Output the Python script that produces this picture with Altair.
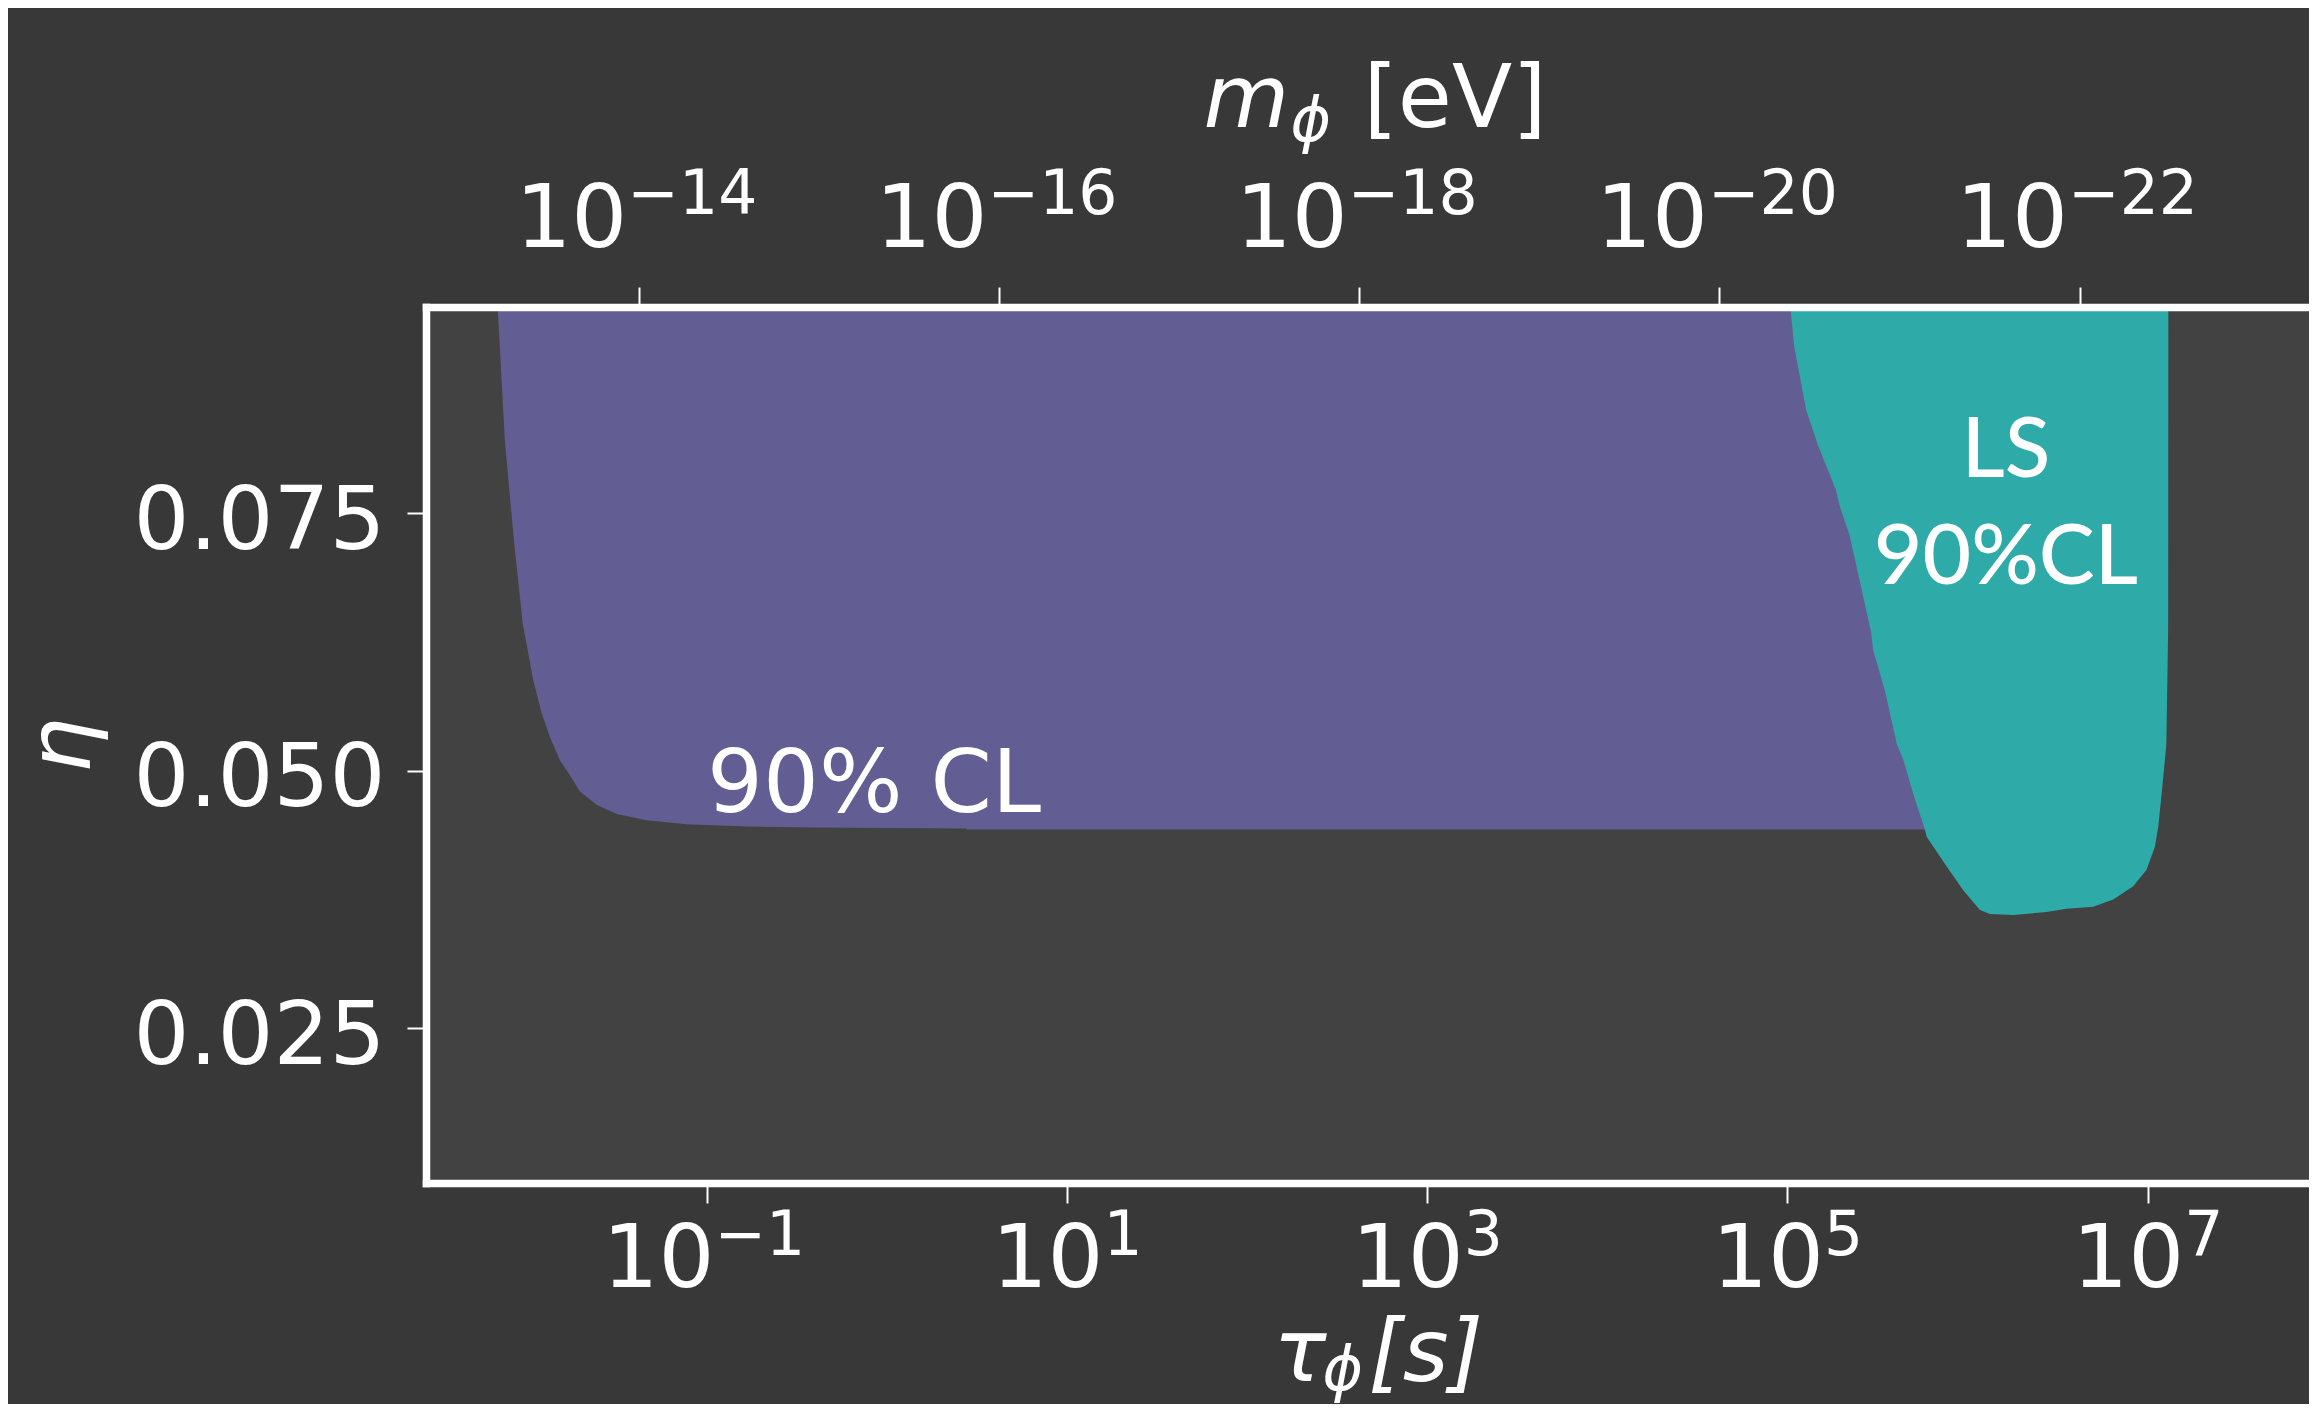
import altair as alt
import pandas as pd

# ---------------- data ----------------
# lower boundary of the purple "90% CL" excluded region: log10(tau/s), eta
purple_log_tau = [-2.162, -2.122, -2.072, -2.023, -1.992, -1.965, -1.918, -1.872,
                  -1.816, -1.770, -1.705, -1.613, -1.501, -1.335, -1.113, -0.780,
                  -0.411, 0.442, 0.443, 6.100]
purple_eta = [0.0950, 0.0820, 0.0724, 0.0643, 0.0614, 0.0588, 0.0556, 0.0533,
              0.0510, 0.0498, 0.0480, 0.0467, 0.0458, 0.0452, 0.0448, 0.0446,
              0.0445, 0.0444, 0.0443, 0.0443]

# lower boundary of the teal "LS 90%CL" region
teal_log_tau = [5.016, 5.038, 5.104, 5.169, 5.268, 5.290, 5.344, 5.399, 5.465,
                5.476, 5.541, 5.607, 5.643, 5.698, 5.763, 5.773, 5.884, 5.976,
                6.069, 6.124, 6.254, 6.439, 6.550, 6.698, 6.809, 6.920, 6.994,
                7.040, 7.059, 7.078, 7.096, 7.104, 7.114, 7.115]
teal_eta = [0.0950, 0.0911, 0.0850, 0.0816, 0.0773, 0.0757, 0.0729, 0.0686, 0.0634,
            0.0617, 0.0578, 0.0526, 0.0511, 0.0478, 0.0443, 0.0436, 0.0407, 0.0384,
            0.0365, 0.0361, 0.0360, 0.0363, 0.0366, 0.0368, 0.0375, 0.0388, 0.0404,
            0.0426, 0.0446, 0.0478, 0.0511, 0.0526, 0.0639, 0.0950]

# annotations (data coordinates)
cl_labels = ["90% CL"]
cl_log_tau = [-1.0]
cl_eta = [0.0460]
ls_labels = ["LS", "90%CL"]
ls_log_tau = [6.213, 6.213]
ls_eta = [0.07855, 0.06815]

# axes
tau_ticks = [1e-1, 1e1, 1e3, 1e5, 1e7]
m_ticks = [1e-14, 1e-16, 1e-18, 1e-20, 1e-22]
eta_ticks = [0.025, 0.050, 0.075]
tau_log_domain = [-2.560, 7.896]
eta_domain = [0.010, 0.095]
log_m_times_tau = -15.378   # log10(m_phi * tau_phi) in eV s

# ---------------- style ----------------
BG = "#383838"
PLOT_BG = "#424242"
PURPLE = "#625E94"
TEAL = "#2EAAA8"
FONT = "DejaVu Sans"
FS = 88
FS_SUP = 61.6
W, H = 1883, 876

tau_dom = [10 ** tau_log_domain[0], 10 ** tau_log_domain[1]]
m_dom = [10 ** (log_m_times_tau - tau_log_domain[1]), 10 ** (log_m_times_tau - tau_log_domain[0])]


def tau_scale():
    return alt.Scale(type="log", domain=tau_dom, nice=False)


def m_scale():
    return alt.Scale(type="log", domain=m_dom, nice=False, reverse=True)


def eta_scale():
    return alt.Scale(domain=eta_domain, nice=False, zero=False)


top_eta = eta_domain[1]
purple_df = pd.DataFrame({"tau": [10 ** v for v in purple_log_tau], "eta": purple_eta,
                          "top": [top_eta] * len(purple_eta)})
teal_df = pd.DataFrame({"tau": [10 ** v for v in teal_log_tau], "eta": teal_eta,
                        "top": [top_eta] * len(teal_eta)})
cl_df = pd.DataFrame({"tau": [10 ** v for v in cl_log_tau], "eta": cl_eta, "label": cl_labels})
ls_df = pd.DataFrame({"tau": [10 ** v for v in ls_log_tau], "eta": ls_eta, "label": ls_labels})

y_axis = alt.Axis(
    orient="left", values=eta_ticks, format=".3f", grid=False,
    labelFont=FONT, labelFontSize=FS, labelColor="white", labelPadding=22,
    labelBaseline="alphabetic", labelOffset=35, labelLimit=1000, labelOverlap=False,
    labelFlush=False, labelBound=False,
    tickSize=19, tickWidth=2, tickColor="white",
    domainColor="white", domainWidth=7.5, domainCap="square",
    title="η", titleFont=FONT, titleFontSize=FS, titleFontStyle="italic",
    titleFontWeight="normal", titleColor="white", titleX=-337, titleY=438,
    titleAngle=270, titleAlign="center", titleBaseline="alphabetic", titleLimit=2000,
    zindex=1,
)


def xenc():
    return alt.X("tau:Q", scale=tau_scale(), axis=None)


def yenc():
    return alt.Y("eta:Q", scale=eta_scale(), axis=None)


purple = alt.Chart(purple_df).mark_area(color=PURPLE, opacity=1, clip=True).encode(
    x=xenc(), y=yenc(), y2="top:Q",
)

teal = alt.Chart(teal_df).mark_area(color=TEAL, opacity=1, clip=True).encode(
    x=xenc(), y=yenc(), y2="top:Q",
)

cl_text = alt.Chart(cl_df).mark_text(
    align="left", baseline="alphabetic", font=FONT, fontSize=FS, color="white"
).encode(x=xenc(), y=yenc(), text="label:N")

ls_text = alt.Chart(ls_df).mark_text(
    align="center", baseline="alphabetic", font="Lato", fontSize=84, fontWeight=500,
    color="white"
).encode(x=xenc(), y=yenc(), text="label:N")

# dedicated y-axis layer
y_layer = alt.Chart(pd.DataFrame({"eta": eta_ticks})).mark_point(opacity=0).encode(
    y=alt.Y("eta:Q", scale=eta_scale(), axis=y_axis)
)

common = dict(
    grid=False, labelFont=FONT, labelColor="white", labelOverlap=False,
    labelFlush=False, labelBound=False, labelLimit=1000, labelBaseline="alphabetic",
    tickSize=20, tickWidth=2, tickColor="white",
    titleColor="white", titleFont=FONT, titleFontWeight="normal", titleAngle=0,
    titleAlign="left", titleBaseline="alphabetic", titleLimit=2000, zindex=1,
)
exp_expr = "format(round(log(datum.value) / LN10), 'd')"
bottom_offset = {"condition": {"test": "datum.value < 1", "value": 7}, "value": 36}


def axis_layer(values, field, scale, axis):
    df = pd.DataFrame({field: values})
    return alt.Chart(df).mark_point(opacity=0).encode(
        x=alt.X(f"{field}:Q", scale=scale, axis=axis)
    )


# bottom axis: base "10", exponent, title pieces  tau_phi [s]
b_main = axis_layer(tau_ticks, "tau", tau_scale(), alt.Axis(
    orient="bottom", values=tau_ticks, labelExpr="'10'", labelAlign="right",
    labelFontSize=FS, labelPadding=83, labelOffset=bottom_offset,
    domainColor="white", domainWidth=7.5, domainCap="square",
    title="τ", titleFontSize=FS, titleFontStyle="italic", titleX=847, titleY=197,
    **common))
b_exp = axis_layer(tau_ticks, "tau", tau_scale(), alt.Axis(
    orient="bottom", values=tau_ticks, labelExpr=exp_expr, labelAlign="left",
    labelFontSize=FS_SUP, labelPadding=51, labelOffset=bottom_offset,
    domain=False, tickOpacity=0,
    title="ϕ", titleFontSize=FS_SUP, titleFontStyle="italic", titleX=896, titleY=206,
    **common))
b_unit = axis_layer(tau_ticks, "tau", tau_scale(), alt.Axis(
    orient="bottom", values=tau_ticks, labels=False, domain=False, tickOpacity=0,
    title="[s]", titleFontSize=FS, titleFontStyle="italic", titleX=942, titleY=197,
    **common))

# top axis: m_phi [eV]
t_main = axis_layer(m_ticks, "m", m_scale(), alt.Axis(
    orient="top", values=m_ticks, labelExpr="'10'", labelAlign="right",
    labelFontSize=FS, labelPadding=41, labelOffset=-12,
    domainColor="white", domainWidth=7.5, domainCap="square",
    title="m", titleFontSize=FS, titleFontStyle="italic", titleX=777, titleY=-180.5,
    **common))
t_exp = axis_layer(m_ticks, "m", m_scale(), alt.Axis(
    orient="top", values=m_ticks, labelExpr=exp_expr, labelAlign="left",
    labelFontSize=FS_SUP, labelPadding=74, labelOffset=-12,
    domain=False, tickOpacity=0,
    title="ϕ", titleFontSize=FS_SUP, titleFontStyle="italic", titleX=864, titleY=-167,
    **common))
t_unit = axis_layer(m_ticks, "m", m_scale(), alt.Axis(
    orient="top", values=m_ticks, labels=False, domain=False, tickOpacity=0,
    title="[eV]", titleFontSize=FS, titleFontStyle="normal", titleX=937, titleY=-180.5,
    **common))

chart = alt.layer(
    purple, teal, cl_text, ls_text, y_layer, b_main, b_exp, b_unit, t_main, t_exp, t_unit
).resolve_scale(x="independent", y="independent").properties(
    width=W, height=H,
    padding={"left": 418, "top": 299, "right": 0, "bottom": 221},
    autosize=alt.AutoSizeParams(type="none"),
    background=BG,
).configure_view(stroke=None, fill=PLOT_BG)

chart.save("out.html", embed_options={"renderer": "svg", "actions": False})
